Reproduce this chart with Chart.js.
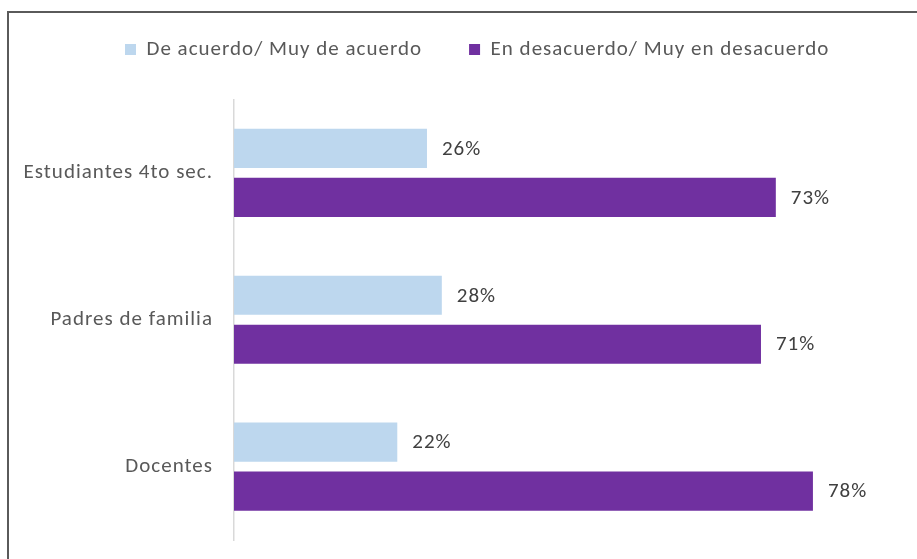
<!DOCTYPE html>
<html lang="es">
<head>
<meta charset="utf-8">
<title>De acuerdo / En desacuerdo</title>
<script src="https://cdn.jsdelivr.net/npm/chart.js@4.4.1/dist/chart.umd.min.js"></script>
<style>
    html, body { margin: 0; padding: 0; background: #fff; overflow: hidden; }
    #wrap { position: relative; width: 917px; height: 559px; overflow: hidden; }
    #frame {
        position: absolute; left: 7px; top: 11px; width: 940px; height: 580px;
        border-top: 2px solid #5a5a5a; border-left: 2px solid #5a5a5a;
        pointer-events: none;
    }
    #opinionChart { position: absolute; left: 0; top: -8px; }
</style>
</head>
<body>
<div id="wrap">
    <canvas id="opinionChart" width="917" height="567"></canvas>
    <div id="frame"></div>
</div>
<script>
// datos
const categories = ['Estudiantes 4to sec.', 'Padres de familia', 'Docentes'];
const seriesNames = ['De acuerdo/ Muy de acuerdo', 'En desacuerdo/ Muy en desacuerdo'];
const deAcuerdo = [26, 28, 22];
const enDesacuerdo = [73, 71, 78];

const FONT = 'Carlito, Calibri, Lato, sans-serif';
const FONT_SIZE = 21;

document.addEventListener('DOMContentLoaded', function () {
    // =========================================================
    // ESPACIADO DE LETRAS (como en Excel)
    // =========================================================
    const letterSpacing = {
        id: 'letterSpacing',
        beforeLayout: function (chart) { chart.ctx.letterSpacing = '1px'; },
        beforeDraw: function (chart) { chart.ctx.letterSpacing = '1px'; }
    };

    // =========================================================
    // LEYENDA: mover a la derecha
    // =========================================================
    const legendShift = {
        id: 'legendShift',
        afterLayout: function (chart) {
            if (!chart.legend) return;
            chart.legend.left += 68;
            chart.legend.right += 68;
        }
    };

    // =========================================================
    // ETIQUETAS DE DATOS (xx%)
    // =========================================================
    const valueLabels = {
        id: 'valueLabels',
        afterDatasetsDraw: function (chart) {
            const ctx = chart.ctx;
            ctx.save();
            ctx.font = FONT_SIZE + 'px ' + FONT;
            ctx.fillStyle = '#404040';
            ctx.textAlign = 'left';
            ctx.textBaseline = 'middle';
            chart.data.datasets.forEach(function (ds, i) {
                chart.getDatasetMeta(i).data.forEach(function (bar, j) {
                    ctx.fillText(ds.data[j] + '%', bar.x + 15, bar.y + 1);
                });
            });
            ctx.restore();
        }
    };

    new Chart(document.getElementById('opinionChart'), {
        type: 'bar',
        data: {
            labels: categories,
            datasets: [{
                label: seriesNames[0],
                data: deAcuerdo,
                backgroundColor: '#BDD7EE',
                categoryPercentage: 0.667,
                barPercentage: 0.8
            }, {
                label: seriesNames[1],
                data: enDesacuerdo,
                backgroundColor: '#7030A0',
                categoryPercentage: 0.667,
                barPercentage: 0.8
            }]
        },
        options: {
            indexAxis: 'y',
            responsive: false,
            animation: false,
            layout: { padding: { top: 0, left: 10, right: 15, bottom: 19 } },
            plugins: {
                tooltip: { enabled: false },
                legend: {
                    position: 'top',
                    align: 'start',
                    labels: {
                        boxWidth: 11,
                        boxHeight: 11,
                        padding: 47,
                        color: '#595959',
                        font: { family: FONT, size: FONT_SIZE }
                    }
                }
            },
            scales: {
                x: {
                    position: 'top',
                    min: 0,
                    max: 90,
                    ticks: { display: false },
                    grid: { display: false, drawTicks: false },
                    border: { display: false },
                    afterFit: function (scale) { scale.height = 29.5; }
                },
                y: {
                    // tickLength en lugar de ticks.padding para no agrandar el margen inferior
                    grid: { display: false, drawTicks: true, tickLength: 21 },
                    border: { display: true, color: '#d9d9d9', width: 1.5 },
                    ticks: {
                        padding: 0,
                        color: '#595959',
                        font: { family: FONT, size: FONT_SIZE }
                    },
                    afterFit: function (scale) { scale.width = 224; }
                }
            }
        },
        plugins: [letterSpacing, legendShift, valueLabels]
    });
});
</script>
</body>
</html>
